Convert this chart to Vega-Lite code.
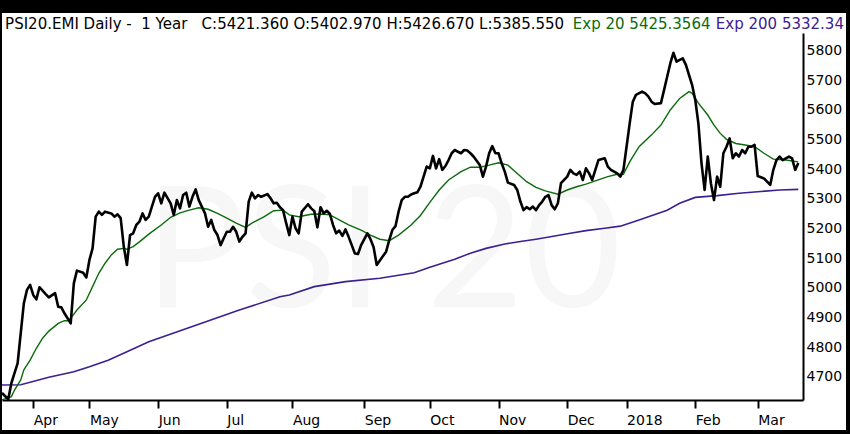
{
  "$schema": "https://vega.github.io/schema/vega-lite/v6.json",
  "width": 844,
  "height": 417,
  "autosize": {"type": "none"},
  "padding": {"left": 2, "top": 13, "right": 4, "bottom": 4},
  "background": "black",
  "view": {"fill": "white", "stroke": null},
  "config": {
    "axis": {
      "title": null,
      "grid": false,
      "domainColor": "black",
      "domainWidth": 2,
      "labelFont": "DejaVu Sans",
      "labelFontSize": 14,
      "labelColor": "black",
      "labelFlush": false,
      "labelOverlap": false
    }
  },
  "datasets": {
    "close": [
      {"day": 0, "value": 4645}, {"day": 2, "value": 4624}, {"day": 3, "value": 4678}, {"day": 4, "value": 4712},
      {"day": 5, "value": 4745}, {"day": 6, "value": 4847}, {"day": 7, "value": 4948}, {"day": 8, "value": 4993},
      {"day": 9, "value": 5010}, {"day": 10, "value": 4976}, {"day": 11, "value": 4961}, {"day": 12, "value": 5002},
      {"day": 14, "value": 4979}, {"day": 15, "value": 4968}, {"day": 17, "value": 4982}, {"day": 18, "value": 4936},
      {"day": 19, "value": 4934}, {"day": 20, "value": 4914}, {"day": 22, "value": 4880}, {"day": 23, "value": 5015},
      {"day": 24, "value": 5058}, {"day": 26, "value": 5051}, {"day": 27, "value": 5035}, {"day": 28, "value": 5094},
      {"day": 29, "value": 5133}, {"day": 30, "value": 5240}, {"day": 31, "value": 5257}, {"day": 32, "value": 5246},
      {"day": 33, "value": 5257}, {"day": 35, "value": 5251}, {"day": 36, "value": 5240}, {"day": 37, "value": 5248},
      {"day": 38, "value": 5235}, {"day": 39, "value": 5139}, {"day": 40, "value": 5077}, {"day": 41, "value": 5178},
      {"day": 42, "value": 5184}, {"day": 43, "value": 5212}, {"day": 44, "value": 5223}, {"day": 45, "value": 5251},
      {"day": 46, "value": 5229}, {"day": 47, "value": 5240}, {"day": 48, "value": 5274}, {"day": 49, "value": 5307},
      {"day": 50, "value": 5319}, {"day": 51, "value": 5285}, {"day": 52, "value": 5321}, {"day": 54, "value": 5285},
      {"day": 55, "value": 5246}, {"day": 56, "value": 5296}, {"day": 57, "value": 5268}, {"day": 58, "value": 5313},
      {"day": 59, "value": 5321}, {"day": 60, "value": 5274}, {"day": 61, "value": 5307}, {"day": 62, "value": 5332},
      {"day": 63, "value": 5296}, {"day": 65, "value": 5251}, {"day": 66, "value": 5206}, {"day": 67, "value": 5229},
      {"day": 68, "value": 5195}, {"day": 69, "value": 5178}, {"day": 70, "value": 5144}, {"day": 71, "value": 5167},
      {"day": 72, "value": 5189}, {"day": 73, "value": 5189}, {"day": 74, "value": 5206}, {"day": 75, "value": 5189},
      {"day": 76, "value": 5156}, {"day": 77, "value": 5172}, {"day": 78, "value": 5184}, {"day": 79, "value": 5291},
      {"day": 80, "value": 5321}, {"day": 81, "value": 5302}, {"day": 82, "value": 5313}, {"day": 83, "value": 5307},
      {"day": 85, "value": 5316}, {"day": 86, "value": 5302}, {"day": 87, "value": 5285}, {"day": 88, "value": 5287},
      {"day": 89, "value": 5272}, {"day": 90, "value": 5262}, {"day": 91, "value": 5218}, {"day": 92, "value": 5178},
      {"day": 93, "value": 5240}, {"day": 94, "value": 5201}, {"day": 95, "value": 5184}, {"day": 96, "value": 5257},
      {"day": 98, "value": 5282}, {"day": 99, "value": 5268}, {"day": 100, "value": 5259}, {"day": 101, "value": 5204},
      {"day": 102, "value": 5272}, {"day": 103, "value": 5251}, {"day": 104, "value": 5260}, {"day": 105, "value": 5249},
      {"day": 106, "value": 5212}, {"day": 107, "value": 5184}, {"day": 108, "value": 5193}, {"day": 109, "value": 5175},
      {"day": 110, "value": 5197}, {"day": 111, "value": 5172}, {"day": 112, "value": 5144}, {"day": 113, "value": 5116},
      {"day": 114, "value": 5114}, {"day": 115, "value": 5144}, {"day": 117, "value": 5184}, {"day": 118, "value": 5164},
      {"day": 119, "value": 5137}, {"day": 120, "value": 5077}, {"day": 122, "value": 5107}, {"day": 123, "value": 5122},
      {"day": 124, "value": 5161}, {"day": 125, "value": 5195}, {"day": 126, "value": 5208}, {"day": 127, "value": 5257},
      {"day": 128, "value": 5296}, {"day": 129, "value": 5307}, {"day": 130, "value": 5307}, {"day": 131, "value": 5315},
      {"day": 132, "value": 5319}, {"day": 133, "value": 5322}, {"day": 134, "value": 5341}, {"day": 135, "value": 5375},
      {"day": 136, "value": 5409}, {"day": 137, "value": 5403}, {"day": 138, "value": 5445}, {"day": 139, "value": 5403},
      {"day": 140, "value": 5434}, {"day": 141, "value": 5398}, {"day": 142, "value": 5411}, {"day": 143, "value": 5431},
      {"day": 144, "value": 5454}, {"day": 145, "value": 5465}, {"day": 146, "value": 5459}, {"day": 147, "value": 5454},
      {"day": 148, "value": 5465}, {"day": 149, "value": 5463}, {"day": 150, "value": 5454}, {"day": 151, "value": 5443},
      {"day": 153, "value": 5414}, {"day": 154, "value": 5375}, {"day": 155, "value": 5409}, {"day": 156, "value": 5454},
      {"day": 157, "value": 5478}, {"day": 158, "value": 5454}, {"day": 159, "value": 5454}, {"day": 160, "value": 5420},
      {"day": 161, "value": 5392}, {"day": 162, "value": 5355}, {"day": 164, "value": 5347}, {"day": 165, "value": 5330},
      {"day": 166, "value": 5291}, {"day": 167, "value": 5262}, {"day": 168, "value": 5272}, {"day": 169, "value": 5265},
      {"day": 170, "value": 5274}, {"day": 171, "value": 5262}, {"day": 172, "value": 5279}, {"day": 173, "value": 5291},
      {"day": 174, "value": 5307}, {"day": 175, "value": 5313}, {"day": 176, "value": 5279}, {"day": 177, "value": 5265},
      {"day": 178, "value": 5285}, {"day": 179, "value": 5353}, {"day": 180, "value": 5364}, {"day": 181, "value": 5375},
      {"day": 182, "value": 5398}, {"day": 183, "value": 5386}, {"day": 184, "value": 5381}, {"day": 185, "value": 5392},
      {"day": 186, "value": 5364}, {"day": 187, "value": 5403}, {"day": 188, "value": 5386}, {"day": 189, "value": 5364},
      {"day": 190, "value": 5398}, {"day": 191, "value": 5431}, {"day": 193, "value": 5437}, {"day": 194, "value": 5409},
      {"day": 195, "value": 5398}, {"day": 197, "value": 5386}, {"day": 198, "value": 5375}, {"day": 199, "value": 5398},
      {"day": 200, "value": 5476}, {"day": 201, "value": 5555}, {"day": 202, "value": 5628}, {"day": 203, "value": 5651},
      {"day": 205, "value": 5662}, {"day": 206, "value": 5656}, {"day": 207, "value": 5645}, {"day": 208, "value": 5628},
      {"day": 209, "value": 5620}, {"day": 211, "value": 5623}, {"day": 212, "value": 5667}, {"day": 213, "value": 5712},
      {"day": 214, "value": 5757}, {"day": 215, "value": 5793}, {"day": 216, "value": 5763}, {"day": 217, "value": 5769},
      {"day": 218, "value": 5774}, {"day": 219, "value": 5752}, {"day": 220, "value": 5718}, {"day": 221, "value": 5684},
      {"day": 222, "value": 5634}, {"day": 223, "value": 5555}, {"day": 224, "value": 5420}, {"day": 225, "value": 5330},
      {"day": 226, "value": 5443}, {"day": 227, "value": 5353}, {"day": 228, "value": 5296}, {"day": 229, "value": 5375},
      {"day": 230, "value": 5341}, {"day": 231, "value": 5454}, {"day": 232, "value": 5476}, {"day": 233, "value": 5504},
      {"day": 234, "value": 5437}, {"day": 235, "value": 5454}, {"day": 236, "value": 5443}, {"day": 237, "value": 5465},
      {"day": 238, "value": 5454}, {"day": 239, "value": 5476}, {"day": 240, "value": 5476}, {"day": 241, "value": 5482},
      {"day": 242, "value": 5377}, {"day": 243, "value": 5373}, {"day": 244, "value": 5369}, {"day": 246, "value": 5347},
      {"day": 247, "value": 5398}, {"day": 248, "value": 5431}, {"day": 249, "value": 5443}, {"day": 250, "value": 5431},
      {"day": 251, "value": 5437}, {"day": 252, "value": 5443}, {"day": 253, "value": 5437}, {"day": 254, "value": 5398},
      {"day": 255, "value": 5421}
    ],
    "ema20": [
      {"day": 0, "value": 4622}, {"day": 3, "value": 4633}, {"day": 4, "value": 4655}, {"day": 6, "value": 4689},
      {"day": 7, "value": 4723}, {"day": 9, "value": 4756}, {"day": 11, "value": 4796}, {"day": 13, "value": 4830},
      {"day": 15, "value": 4854}, {"day": 18, "value": 4880}, {"day": 20, "value": 4889}, {"day": 21, "value": 4889},
      {"day": 22, "value": 4897}, {"day": 24, "value": 4925}, {"day": 27, "value": 4959}, {"day": 29, "value": 5004},
      {"day": 31, "value": 5049}, {"day": 33, "value": 5083}, {"day": 35, "value": 5111}, {"day": 37, "value": 5130},
      {"day": 39, "value": 5133}, {"day": 40, "value": 5130}, {"day": 42, "value": 5139}, {"day": 44, "value": 5155},
      {"day": 47, "value": 5181}, {"day": 51, "value": 5212}, {"day": 54, "value": 5238}, {"day": 57, "value": 5253},
      {"day": 60, "value": 5262}, {"day": 63, "value": 5270}, {"day": 66, "value": 5265}, {"day": 69, "value": 5251},
      {"day": 72, "value": 5235}, {"day": 75, "value": 5218}, {"day": 78, "value": 5204}, {"day": 80, "value": 5218},
      {"day": 84, "value": 5240}, {"day": 87, "value": 5260}, {"day": 90, "value": 5262}, {"day": 92, "value": 5246},
      {"day": 95, "value": 5240}, {"day": 99, "value": 5248}, {"day": 102, "value": 5249}, {"day": 105, "value": 5246},
      {"day": 108, "value": 5229}, {"day": 111, "value": 5212}, {"day": 115, "value": 5195}, {"day": 118, "value": 5178},
      {"day": 121, "value": 5164}, {"day": 124, "value": 5159}, {"day": 127, "value": 5178}, {"day": 131, "value": 5212},
      {"day": 134, "value": 5244}, {"day": 137, "value": 5288}, {"day": 140, "value": 5330}, {"day": 143, "value": 5364},
      {"day": 147, "value": 5392}, {"day": 150, "value": 5407}, {"day": 153, "value": 5407}, {"day": 156, "value": 5414},
      {"day": 159, "value": 5422}, {"day": 162, "value": 5414}, {"day": 165, "value": 5386}, {"day": 168, "value": 5358},
      {"day": 171, "value": 5339}, {"day": 174, "value": 5327}, {"day": 178, "value": 5316}, {"day": 181, "value": 5330},
      {"day": 184, "value": 5341}, {"day": 187, "value": 5350}, {"day": 190, "value": 5361}, {"day": 194, "value": 5375},
      {"day": 197, "value": 5383}, {"day": 199, "value": 5383}, {"day": 201, "value": 5425}, {"day": 204, "value": 5476},
      {"day": 208, "value": 5516}, {"day": 211, "value": 5549}, {"day": 214, "value": 5600}, {"day": 217, "value": 5639},
      {"day": 220, "value": 5662}, {"day": 221, "value": 5656}, {"day": 223, "value": 5623}, {"day": 226, "value": 5583},
      {"day": 228, "value": 5549}, {"day": 230, "value": 5521}, {"day": 232, "value": 5501}, {"day": 235, "value": 5487},
      {"day": 238, "value": 5482}, {"day": 241, "value": 5476}, {"day": 244, "value": 5454}, {"day": 247, "value": 5434},
      {"day": 251, "value": 5431}, {"day": 255, "value": 5425}
    ],
    "ema200": [
      {"day": 0, "value": 4672}, {"day": 6, "value": 4673}, {"day": 15, "value": 4698}, {"day": 23, "value": 4717},
      {"day": 28, "value": 4734}, {"day": 34, "value": 4756}, {"day": 40, "value": 4784}, {"day": 47, "value": 4818},
      {"day": 63, "value": 4877}, {"day": 76, "value": 4925}, {"day": 89, "value": 4970}, {"day": 92, "value": 4976},
      {"day": 100, "value": 5004}, {"day": 110, "value": 5021}, {"day": 121, "value": 5032}, {"day": 132, "value": 5051},
      {"day": 137, "value": 5069}, {"day": 145, "value": 5096}, {"day": 150, "value": 5117}, {"day": 155, "value": 5133},
      {"day": 161, "value": 5148}, {"day": 166, "value": 5156}, {"day": 171, "value": 5164}, {"day": 177, "value": 5175},
      {"day": 182, "value": 5184}, {"day": 187, "value": 5193}, {"day": 193, "value": 5201}, {"day": 198, "value": 5208},
      {"day": 204, "value": 5229}, {"day": 213, "value": 5262}, {"day": 217, "value": 5285}, {"day": 222, "value": 5305},
      {"day": 229, "value": 5311}, {"day": 236, "value": 5319}, {"day": 243, "value": 5325}, {"day": 249, "value": 5330},
      {"day": 255, "value": 5332}
    ]
  },
  "encoding": {
    "x": {
      "field": "day",
      "type": "quantitative",
      "scale": {"domain": [0, 256.5], "range": [0, 801], "nice": false, "zero": false},
      "axis": {
        "orient": "bottom",
        "offset": -30,
        "values": [10, 28, 50, 72, 93, 116, 137, 159, 181, 200, 222, 242],
        "labelExpr": "['Apr','May','Jun','Jul','Aug','Sep','Oct','Nov','Dec','2018','Feb','Mar'][indexof([10,28,50,72,93,116,137,159,181,200,222,242], datum.value)]",
        "tickColor": "black",
        "tickWidth": 2,
        "tickSize": 8,
        "labelAlign": "left",
        "labelBaseline": "top",
        "labelPadding": 5
      }
    },
    "y": {
      "field": "value",
      "type": "quantitative",
      "scale": {"domain": [4621.5, 5859.7], "range": [387, 20], "nice": false, "zero": false},
      "axis": {
        "orient": "right",
        "offset": -43,
        "ticks": false,
        "values": [4700, 4800, 4900, 5000, 5100, 5200, 5300, 5400, 5500, 5600, 5700, 5800],
        "format": "d",
        "labelPadding": 3
      }
    }
  },
  "layer": [
    {
      "data": {"values": [{"day": 122, "value": 4935}]},
      "mark": {"type": "text", "text": "PSI 20", "font": "Lato", "fontSize": 168, "align": "center", "baseline": "alphabetic", "color": "#f7f7f7"}
    },
    {
      "data": {"name": "ema200"},
      "mark": {"type": "line", "color": "#3b2092", "strokeWidth": 1.6}
    },
    {
      "data": {"name": "ema20"},
      "mark": {"type": "line", "color": "#0b6b0b", "strokeWidth": 1.4}
    },
    {
      "data": {"name": "close"},
      "mark": {"type": "line", "color": "black", "strokeWidth": 2.6, "strokeJoin": "round"}
    },
    {
      "data": {"values": [{"day": 1, "value": 5890}]},
      "mark": {"type": "text", "text": "PSI20.EMI Daily -\u00a0\u00a01 Year\u00a0\u00a0\u00a0C:5421.360 O:5402.970 H:5426.670 L:5385.550", "font": "DejaVu Sans", "fontSize": 15, "align": "left", "baseline": "middle", "color": "black"}
    },
    {
      "data": {"values": [{"day": 182.8, "value": 5890}]},
      "mark": {"type": "text", "text": "Exp 20 5425.3564", "font": "DejaVu Sans", "fontSize": 15, "align": "left", "baseline": "middle", "color": "#0b6b0b"}
    },
    {
      "data": {"values": [{"day": 228.6, "value": 5890}]},
      "mark": {"type": "text", "text": "Exp 200 5332.34", "font": "DejaVu Sans", "fontSize": 15, "align": "left", "baseline": "middle", "color": "#3b2092"}
    }
  ]
}
